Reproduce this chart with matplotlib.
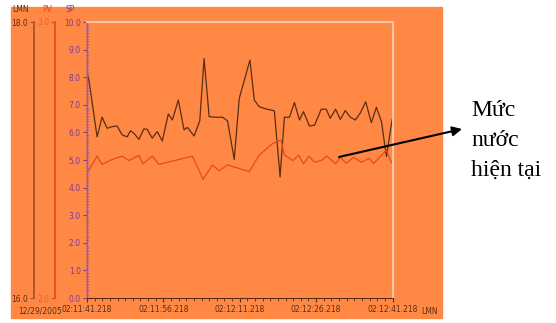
import matplotlib.pyplot as plt
from matplotlib.patches import Rectangle
from matplotlib.ticker import MultipleLocator

# seconds after 02:11:41.218 and level values (SP scale 0..10)
lmn_t = [0.0, 0.33, 1.98, 2.96, 3.95, 4.93, 5.92, 6.90, 7.89, 8.55, 9.20, 10.19,
         11.18, 11.83, 12.82, 13.80, 14.79, 15.97, 16.76, 17.94, 19.06, 19.72,
         21.03, 22.15, 23.0, 23.99, 25.30, 26.62, 27.60, 28.92, 29.90, 32.0,
         32.86, 33.84, 35.16, 36.80, 37.92, 38.77, 39.76, 40.74, 41.73, 42.52,
         43.70, 44.69, 46.0, 46.98, 47.77, 48.82, 49.74, 50.73, 51.71, 52.70,
         53.69, 54.74, 55.85, 56.84, 57.83, 58.81, 59.93]
lmn_v = [8.14, 7.96, 5.84, 6.55, 6.15, 6.21, 6.23, 5.91, 5.84, 6.06, 5.97, 5.75,
         6.13, 6.11, 5.79, 6.03, 5.69, 6.67, 6.45, 7.17, 6.09, 6.18,
         5.87, 6.42, 8.68, 6.57, 6.55, 6.55, 6.42, 5.02, 7.23, 8.62,
         7.17, 6.93, 6.85, 6.78, 4.39, 6.55, 6.55, 7.08, 6.45, 6.75,
         6.23, 6.26, 6.84, 6.84, 6.51, 6.84, 6.47, 6.79, 6.55, 6.45,
         6.71, 7.11, 6.35, 6.91, 6.39, 5.12, 6.47]

pv_t = [0.2, 1.98, 2.96, 4.93, 6.90, 8.22, 10.19, 10.98, 12.82, 14.13, 20.70,
        22.80, 24.64, 25.96, 27.60, 31.87, 33.84, 36.47, 38.11, 38.77, 40.41,
        41.60, 42.52, 43.57, 44.69, 46.0, 47.12, 48.82, 49.74, 50.92, 52.37,
        53.88, 55.39, 56.31, 57.69, 58.81, 59.79]
pv_v = [4.58, 5.14, 4.84, 5.02, 5.14, 4.98, 5.17, 4.86, 5.14, 4.84, 5.14,
        4.30, 4.82, 4.61, 4.82, 4.58, 5.18, 5.60, 5.72, 5.18, 4.98,
        5.17, 4.86, 5.14, 4.92, 4.98, 5.14, 4.86, 5.10, 4.88, 5.10,
        4.92, 5.06, 4.88, 5.14, 5.36, 4.90]

time_ticks = [0, 15, 30, 45, 60]
time_labels = ['02:11:41.218', '02:11:56.218', '02:12:11.218', '02:12:26.218', '02:12:41.218']
sp_ticks = [0, 1, 2, 3, 4, 5, 6, 7, 8, 9, 10]

orange = '#FF8845'
brown = '#5a2e12'
red = '#e8481e'
purple = '#7a3a9a'
fs = 5.5

fig = plt.figure(figsize=(5.56, 3.23), dpi=100, facecolor='white')
fig.patches.append(Rectangle((11/556, 5/323), 431/556, 311/323,
                             transform=fig.transFigure, color=orange, zorder=-10))

ax = fig.add_axes([87/556, 25/323, 305.5/556, 276/323])
ax.set_facecolor(orange)
ax.plot(lmn_t, lmn_v, color=brown, lw=0.9)
ax.plot(pv_t, pv_v, color=red, lw=0.9)
ax.set_xlim(0, 60)
ax.set_ylim(0, 10)

ax.set_yticks(sp_ticks)
ax.set_yticklabels([f'{v:.1f}' for v in sp_ticks])
ax.yaxis.set_minor_locator(MultipleLocator(0.1))
ax.tick_params(axis='y', which='major', colors=purple, labelsize=fs, length=3, pad=1.5)
ax.tick_params(axis='y', which='minor', colors='#b86a8a', length=3, direction='inout')
ax.set_xticks(time_ticks)
ax.set_xticklabels(time_labels)
ax.xaxis.set_minor_locator(MultipleLocator(1.5))
ax.tick_params(axis='x', which='major', colors=brown, labelsize=fs, length=3, pad=2)
ax.tick_params(axis='x', which='minor', colors=brown, length=2)

ax.spines['left'].set_color('#9a5a9a')
ax.spines['left'].set_linewidth(1.0)
ax.spines['bottom'].set_color(brown)
ax.spines['top'].set_color('#f6c6a6')
ax.spines['right'].set_color('#f6c6a6')
ax.spines['top'].set_linewidth(1.5)
ax.spines['right'].set_linewidth(1.5)

# extra left axes for LMN and PV
for off, lo, hi, col, lcol in [(-0.1735, 16.0, 18.0, '#a0502a', brown),
                               (-0.1047, 2.0, 3.0, red, '#f05a30')]:
    a = ax.twinx()
    a.set_ylim(lo, hi)
    a.spines['left'].set_position(('axes', off))
    a.spines['left'].set_visible(True)
    a.spines['left'].set_color(col)
    a.spines['left'].set_linewidth(1.2)
    for s in ['right', 'top', 'bottom']:
        a.spines[s].set_visible(False)
    a.yaxis.set_ticks_position('left')
    a.yaxis.set_label_position('left')
    a.set_yticks([lo, hi])
    a.set_yticklabels([f'{lo:.1f}', f'{hi:.1f}'])
    a.tick_params(axis='y', colors=col, labelcolor=lcol, labelsize=fs, length=3, pad=1)

fig.text(12/556, 1 - 10/323, 'LMN', fontsize=fs, color=brown, va='center')
fig.text(42/556, 1 - 10/323, 'PV', fontsize=fs, color=red, va='center')
fig.text(66/556, 1 - 10/323, 'SP', fontsize=fs, color=purple, va='center')
fig.text(62/556, 1 - 311/323, '12/29/2005', fontsize=fs, color=brown, ha='right', va='center')
fig.text(421/556, 1 - 311/323, 'LMN', fontsize=fs, color=brown, va='center')

ax.annotate('', xy=(462, 323 - 129), xycoords='figure pixels',
            xytext=(49.5, 5.11), textcoords='data', annotation_clip=False,
            arrowprops=dict(arrowstyle='-|>', color='black', lw=1.5,
                            mutation_scale=14, shrinkA=0, shrinkB=0))
fig.text(471/556, 1 - 100/323, 'Mức\nnước\nhiện tại', family='Liberation Serif',
         fontsize=17, va='top', ha='left', linespacing=1.55)

fig.savefig('out.png', dpi=100, facecolor='white')
